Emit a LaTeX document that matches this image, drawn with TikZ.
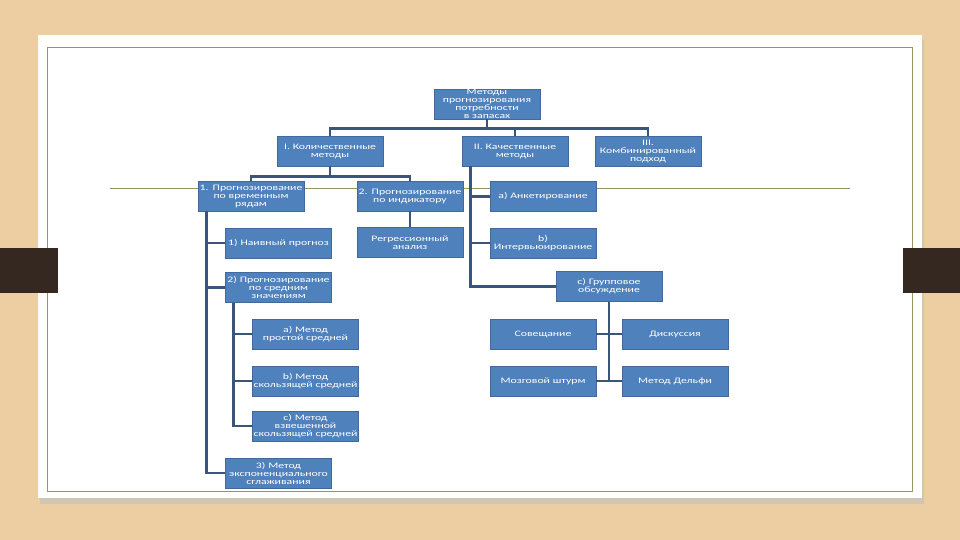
\documentclass[tikz,border=0pt]{standalone}
\usepackage{fontspec}
\setmainfont{Carlito}[FakeStretch=1.4]
\usetikzlibrary{positioning}
\definecolor{boxblue}{RGB}{79,129,189}
\definecolor{boxedge}{RGB}{65,105,155}
\definecolor{linkblue}{RGB}{58,84,122}
\definecolor{wood}{RGB}{236,206,162}
\definecolor{tabbrown}{RGB}{52,40,32}
\definecolor{olive}{RGB}{150,150,95}

\begin{document}
\begin{tikzpicture}[x=1pt,y=-1pt]
  \tikzset{box/.style = {shape=rectangle,fill=boxblue,draw=boxedge,line width=0.5pt,text=white,minimum width=106pt,minimum height=30pt,text width=104pt,inner sep=0pt,align=center,font=\fontsize{8.4}{8}\selectfont}}
  \tikzset{link/.style = {draw=linkblue,line width=2.6pt}}

  % slide
  \fill[wood] (0,0) rectangle (960,540);
  \useasboundingbox (0,0) rectangle (960,540);
  \fill[black!25,opacity=0.6] (40,40) rectangle (924,504);
  \fill[white] (38,35) rectangle (922,498);
  \draw[olive,line width=0.7pt] (47,47) rectangle (912,491);
  \draw[olive,line width=0.8pt] (110,188) -- (850,188);
  \fill[tabbrown] (0,248) rectangle (58,293);
  \fill[tabbrown] (903,248) rectangle (960,293);

	\node[box] (top) at (487,104) {Методы прогнозирования потребности в запасах};

	\node[box] (I) at (330,151) {I. Количественные методы};
	\node[box] (II) at (515,151) {II. Качественные методы};
	\node[box] (III) at (648,151) {III. Комбинированный подход};

	\node[box] (ts) at (251,196) {1. Прогнозирование по временным рядам};
	\node[box] (ind) at (410,196) {2. Прогнозирование по индикатору};
	\node[box] (regr) at (410,242.5) {Регрессионный анализ};

	\node[box] (naive) at (278.5,243) {1) Наивный прогноз};
	\node[box] (avg) at (278.5,287.5) {2) Прогнозирование по средним значениям};
	\node[box] (simple) at (305.5,334) {a) Метод простой средней};
	\node[box] (moving) at (305.5,381) {b) Метод скользящей средней};
	\node[box] (weighted) at (305.5,426) {c) Метод взвешенной скользящей средней};
	\node[box] (expo) at (278.5,473) {3) Метод экспоненциального сглаживания};

	\node[box] (anket) at (543,196.5) {a) Анкетирование};
	\node[box] (interv) at (543,243) {b) Интервьюирование};
	\node[box] (group) at (609,286.5) {c) Групповое обсуждение};

	\node[box] (meet) at (543,334) {Совещание};
	\node[box] (disc) at (675,334) {Дискуссия};
	\node[box] (brain) at (543,381) {Мозговой штурм};
	\node[box] (delphi) at (675,381) {Метод Дельфи};

	\coordinate (tsspine) at ([xshift=9pt]ts.south west);
	\coordinate (avgspine) at ([xshift=8pt]avg.south west);
	\coordinate (qspine) at ([xshift=9pt]II.south west);

    \foreach \to in {I, II, III}
    \draw[link] (top.south) -- ++(0,9) -| (\to.north);

    \foreach \to in {ts, ind}
    \draw[link] (I.south) -- ++(0,10) -| (\to.north);

    \draw[link] (ind) -- (regr);

    \foreach \to in {naive, avg, expo}
    \draw[link] (tsspine) |- (\to.west);

    \foreach \to in {simple, moving, weighted}
    \draw[link] (avgspine) |- (\to.west);

    \foreach \to in {anket, interv, group}
    \draw[link] (qspine) |- (\to.west);

    \draw[link] (group.south) -- (group.south |- brain.east);
    \foreach \from/\to in {meet/disc, brain/delphi}
    \draw[link] (\from.east) -- (\to.west);

\end{tikzpicture}
\end{document}
